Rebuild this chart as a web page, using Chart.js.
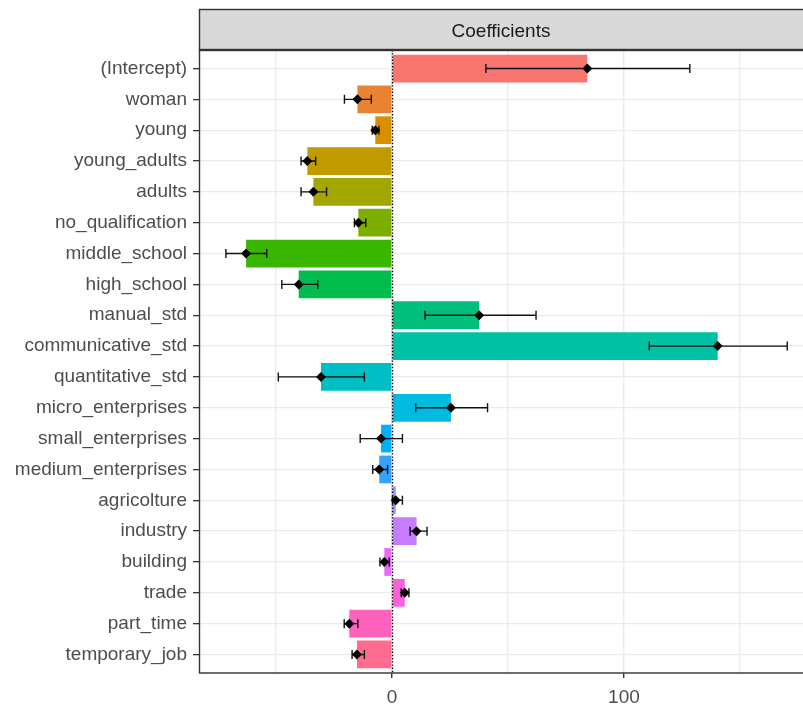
<!DOCTYPE html>
<html>
<head>
<meta charset="utf-8">
<script src="https://cdn.jsdelivr.net/npm/chart.js@4"></script>
<style>
    html, body { margin: 0; padding: 0; background: #fff; }
    #wrap { width: 803px; height: 704px; }
</style>
</head>
<body>
<div id="wrap"><canvas id="coefChart" width="803" height="704"></canvas></div>
<script>
var categories = ['(Intercept)', 'woman', 'young', 'young_adults', 'adults', 'no_qualification',
    'middle_school', 'high_school', 'manual_std', 'communicative_std', 'quantitative_std',
    'micro_enterprises', 'small_enterprises', 'medium_enterprises', 'agricolture', 'industry',
    'building', 'trade', 'part_time', 'temporary_job'];
var coef = [84.2, -14.9, -7.2, -36.5, -33.9, -14.5, -62.9, -40.2, 37.6, 140.4, -30.6, 25.4,
    -4.7, -5.5, 1.6, 10.6, -3.3, 5.5, -18.4, -15.1];
var lower = [40.5, -20.5, -8.5, -39.2, -39.2, -16.2, -71.6, -47.5, 14.2, 110.9, -49.0, 10.2,
    -13.7, -8.3, 0.2, 7.8, -5.2, 4.0, -20.6, -17.2];
var upper = [128.4, -8.9, -5.6, -32.9, -28.2, -11.3, -54.0, -32.0, 62.1, 170.4, -11.9, 41.2,
    4.5, -1.9, 4.5, 15.1, -1.2, 7.3, -14.7, -11.9];
var xMajorTicks = [0, 100];
var xMinorTicks = [-50, 50, 150];
var stripTitle = 'Coefficients';

// ggplot hue palette, 20 levels
var colors = ['#F8766D', '#EA8331', '#D89000', '#C09B00', '#A3A500', '#7CAE00', '#39B600',
    '#00BB4E', '#00BF7D', '#00C1A3', '#00BFC4', '#00BAE0', '#00B0F6', '#35A2FF', '#9590FF',
    '#C77CFF', '#E76BF3', '#FA62DB', '#FF62BC', '#FF6C90'];

var FONT = '"Liberation Sans", Arial, sans-serif';

// zero line + error bars, drawn right after the bars
var errorBars = {
    id: 'errorBars',
    afterDatasetDraw: function (chart, args) {
        if (args.index !== 0) return;
        var ctx = chart.ctx, area = chart.chartArea;
        var x = chart.scales.x, y = chart.scales.y;
        ctx.save();
        var x0 = Math.round(x.getPixelForValue(0)) + 0.5;
        ctx.strokeStyle = '#000';
        ctx.lineWidth = 1.4;
        ctx.setLineDash([1.4, 1.8]);
        ctx.beginPath();
        ctx.moveTo(x0, area.top);
        ctx.lineTo(x0, area.bottom);
        ctx.stroke();
        ctx.setLineDash([]);
        ctx.strokeStyle = '#111';
        ctx.lineWidth = 1.4;
        for (var i = 0; i < categories.length; i++) {
            var yp = y.getPixelForValue(i);
            var xl = x.getPixelForValue(lower[i]);
            var xu = x.getPixelForValue(upper[i]);
            ctx.beginPath();
            ctx.moveTo(xl, yp); ctx.lineTo(xu, yp);
            ctx.moveTo(xl, yp - 4.5); ctx.lineTo(xl, yp + 4.5);
            ctx.moveTo(xu, yp - 4.5); ctx.lineTo(xu, yp + 4.5);
            ctx.stroke();
        }
        ctx.restore();
    }
};

// facet strip and panel border (right side runs off the canvas)
var panelFrame = {
    id: 'panelFrame',
    afterDraw: function (chart) {
        var ctx = chart.ctx, a = chart.chartArea;
        var w = chart.width + 5 - a.left;
        ctx.save();
        ctx.fillStyle = '#D9D9D9';
        ctx.fillRect(a.left, 9, w, a.top - 9);
        ctx.strokeStyle = '#333333';
        ctx.lineWidth = 1.4;
        ctx.strokeRect(a.left + 0.5, 9.5, w, a.top - 9);
        ctx.strokeRect(a.left + 0.5, a.top - 0.5, w, a.bottom - a.top + 0.5);
        ctx.fillStyle = '#1A1A1A';
        ctx.font = '19px ' + FONT;
        ctx.textAlign = 'center';
        ctx.textBaseline = 'middle';
        ctx.fillText(stripTitle, (a.left + a.right) / 2, (9 + a.top) / 2 + 2);
        ctx.restore();
    }
};

var barData = coef.map(function (v, i) { return { x: v, y: i }; });
var pointData = coef.map(function (v, i) { return { x: v, y: i }; });

new Chart(document.getElementById('coefChart'), {
    type: 'bar',
    data: {
        datasets: [{
            type: 'bar',
            data: barData,
            backgroundColor: colors,
            borderWidth: 0,
            categoryPercentage: 1,
            barPercentage: 0.9,
            order: 2
        }, {
            type: 'scatter',
            data: pointData,
            pointStyle: 'rectRot',
            pointRadius: 5,
            backgroundColor: '#000',
            borderColor: '#000',
            borderWidth: 0,
            showLine: false,
            order: 1
        }]
    },
    options: {
        indexAxis: 'y',
        responsive: false,
        animation: false,
        events: [],
        layout: { autoPadding: false, padding: { top: 50, left: 0, right: 0, bottom: 0 } },
        plugins: {
            legend: { display: false },
            tooltip: { enabled: false }
        },
        scales: {
            x: {
                type: 'linear',
                min: -83.2,
                max: 177.2,
                afterBuildTicks: function (scale) {
                    scale.ticks = xMinorTicks.concat(xMajorTicks).sort(function (a, b) { return a - b; })
                        .map(function (v) { return { value: v }; });
                },
                afterFit: function (scale) {
                    scale.height = 31;
                    scale.paddingLeft = 0;
                    scale.paddingRight = 0;
                },
                border: { display: false },
                grid: {
                    color: '#EBEBEB',
                    lineWidth: 1.4,
                    tickLength: 5,
                    tickColor: function (c) {
                        return c.tick && xMajorTicks.indexOf(c.tick.value) >= 0 ? '#333333' : 'rgba(0,0,0,0)';
                    }
                },
                ticks: {
                    color: '#4D4D4D',
                    font: { family: FONT, size: 19 },
                    padding: 8,
                    maxRotation: 0,
                    callback: function (v) { return xMajorTicks.indexOf(v) >= 0 ? String(v) : ''; }
                }
            },
            y: {
                type: 'linear',
                reverse: true,
                offset: false,
                min: -0.6,
                max: 19.6,
                afterBuildTicks: function (scale) {
                    scale.ticks = categories.map(function (c, i) { return { value: i }; });
                },
                afterFit: function (scale) { scale.width = 199; },
                border: { display: false },
                grid: {
                    offset: false,
                    color: '#EBEBEB',
                    lineWidth: 1.3,
                    tickLength: 6,
                    tickColor: '#333333'
                },
                ticks: {
                    color: '#4D4D4D',
                    font: { family: FONT, size: 19 },
                    padding: 6,
                    autoSkip: false,
                    callback: function (v) { return categories[v]; }
                }
            }
        }
    },
    plugins: [errorBars, panelFrame]
});
</script>
</body>
</html>
